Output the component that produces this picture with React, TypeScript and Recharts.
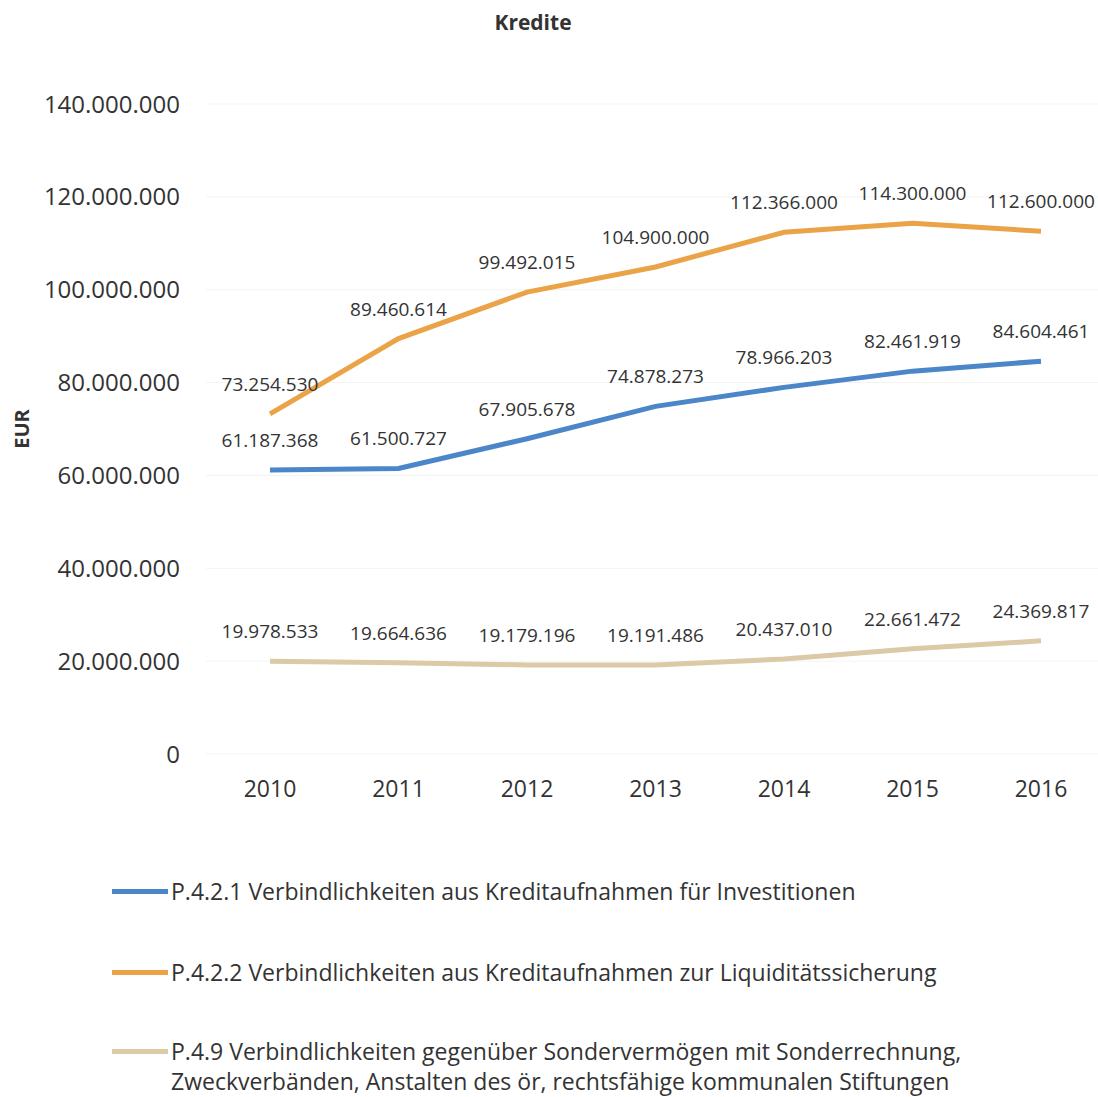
import React from 'react';
import { LineChart, Line, XAxis, YAxis, CartesianGrid, LabelList } from 'recharts';

const years = ['2010', '2011', '2012', '2013', '2014', '2015', '2016'];

// P.4.2.1 Verbindlichkeiten aus Kreditaufnahmen für Investitionen
const investitionen = [61187368, 61500727, 67905678, 74878273, 78966203, 82461919, 84604461];
// P.4.2.2 Verbindlichkeiten aus Kreditaufnahmen zur Liquiditätssicherung
const liquiditaet = [73254530, 89460614, 99492015, 104900000, 112366000, 114300000, 112600000];
// P.4.9 Verbindlichkeiten gegenüber Sondervermögen ...
const sondervermoegen = [19978533, 19664636, 19179196, 19191486, 20437010, 22661472, 24369817];

const yTicks = [0, 20000000, 40000000, 60000000, 80000000, 100000000, 120000000, 140000000];

const series = [
  {
    key: 'inv',
    color: '#4a86c8',
    label: ['P.4.2.1 Verbindlichkeiten aus Kreditaufnahmen für Investitionen'],
  },
  {
    key: 'liq',
    color: '#eba348',
    label: ['P.4.2.2 Verbindlichkeiten aus Kreditaufnahmen zur Liquiditätssicherung'],
  },
  {
    key: 'sv',
    color: '#dcc9a8',
    label: [
      'P.4.9 Verbindlichkeiten gegenüber Sondervermögen mit Sonderrechnung,',
      'Zweckverbänden, Anstalten des ör, rechtsfähige kommunalen Stiftungen',
    ],
  },
];

const data = years.map((year, i) => ({
  year,
  inv: investitionen[i],
  liq: liquiditaet[i],
  sv: sondervermoegen[i],
}));

const FONT = '"Open Sans", "Noto Sans", sans-serif';
const TEXT = '#333333';

const fmt = (v: number) => v.toLocaleString('de-DE');

const legendTop = [876, 957, 1036];

const App: React.FC = () => {
  return (
    <div
      style={{
        position: 'absolute',
        left: 0,
        top: 0,
        width: 1098,
        height: 1097,
        overflow: 'hidden',
        background: '#fff',
        fontFamily: FONT,
      }}
    >
      <div
        style={{
          position: 'absolute',
          top: 8,
          left: 0,
          width: 1066,
          textAlign: 'center',
          fontWeight: 700,
          fontSize: 21,
          color: TEXT,
        }}
      >
        Kredite
      </div>
      <LineChart
        width={1098}
        height={840}
        data={data}
        margin={{ top: 104, right: 0, bottom: 0, left: 0 }}
        style={{ position: 'absolute', left: 0, top: 0 }}
      >
        <CartesianGrid vertical={false} stroke="#f3f3f3" />
        <XAxis
          dataKey="year"
          axisLine={false}
          tickLine={false}
          height={86}
          tickMargin={21}
          padding={{ left: 64, right: 57 }}
          tick={{ fill: TEXT, fontSize: 23, fontFamily: FONT }}
        />
        <YAxis
          width={206}
          domain={[0, 140000000]}
          ticks={yTicks}
          interval={0}
          axisLine={false}
          tickLine={false}
          tickMargin={20}
          tickFormatter={fmt}
          tick={{ fill: TEXT, fontSize: 24, fontFamily: FONT }}
          label={{
            value: 'EUR',
            angle: -90,
            position: 'insideLeft',
            offset: 22,
            style: { fill: TEXT, fontSize: 20, fontWeight: 700, fontFamily: FONT, textAnchor: 'middle' },
          }}
        />
        {series.map((s) => (
          <Line
            key={s.key}
            type="linear"
            dataKey={s.key}
            stroke={s.color}
            strokeWidth={5}
            dot={false}
            activeDot={false}
            isAnimationActive={false}
          >
            <LabelList
              dataKey={s.key}
              position="top"
              offset={23}
              formatter={(v: any) => fmt(Number(v))}
              style={{ fill: TEXT, fontSize: 19, fontFamily: FONT }}
            />
          </Line>
        ))}
      </LineChart>
      {series.map((s, i) => (
        <div
          key={s.key}
          style={{
            position: 'absolute',
            left: 112,
            top: legendTop[i],
            display: 'flex',
            alignItems: 'flex-start',
            fontSize: 23,
            lineHeight: '30px',
            color: TEXT,
          }}
        >
          <div style={{ width: 56, height: 5, background: s.color, marginTop: 13, marginRight: 3 }} />
          <div>
            {s.label.map((line) => (
              <div key={line}>{line}</div>
            ))}
          </div>
        </div>
      ))}
    </div>
  );
};

export default App;
